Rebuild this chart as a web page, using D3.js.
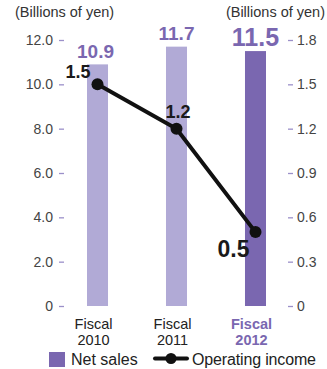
<!DOCTYPE html>
<html>
<head>
<meta charset="utf-8">
<script src="https://cdn.jsdelivr.net/npm/d3@7"></script>
<style>
  body { margin: 0; background: #fff; }
  text { font-family: "Liberation Sans", Arial, sans-serif; }
</style>
</head>
<body>
<script>
//
// DATA
//
var years = ["2010", "2011", "2012"];
var net_sales = [10.9, 11.7, 11.5];
var op_income = [1.5, 1.2, 0.5];
var left_ticks = [0, 2, 4, 6, 8, 10, 12];
var right_ticks = [0, 0.3, 0.6, 0.9, 1.2, 1.5, 1.8];

//
// SETUP
//
var W = 327, H = 369;
var light = "#b1aad6", dark = "#7a67b0", tickc = "#9b90c9";

var svg = d3.select("body").append("svg")
    .attr("width", W).attr("height", H);

var x = d3.scaleBand().domain(years).range([87, 266]).paddingInner(0.734).paddingOuter(0);
var yl = d3.scaleLinear().domain([0, 12]).range([306, 40]);
var yr = d3.scaleLinear().domain([0, 1.8]).range([306, 40]);
var cx = function(d){ return x(d) + x.bandwidth() / 2; };

// axis titles
svg.append("text").attr("x", 15).attr("y", 17).attr("font-size", 14.5)
   .attr("fill", "#333").text("(Billions of yen)");
svg.append("text").attr("x", 325).attr("y", 17).attr("font-size", 14.5)
   .attr("text-anchor", "end").attr("fill", "#333").text("(Billions of yen)");

// left axis
var la = svg.append("g").attr("transform", "translate(64,0)")
    .call(d3.axisLeft(yl).tickValues(left_ticks).tickSize(5).tickPadding(6)
        .tickFormat(function(d){ return d === 0 ? "0" : d3.format(".1f")(d); }));
// right axis
var ra = svg.append("g").attr("transform", "translate(288,0)")
    .call(d3.axisRight(yr).tickValues(right_ticks).tickSize(5).tickPadding(4)
        .tickFormat(function(d){ return d === 0 ? "0" : d3.format(".1f")(d); }));
[la, ra].forEach(function(a){
    a.select(".domain").remove();
    a.selectAll(".tick line").attr("stroke", tickc).attr("stroke-width", 1.3);
    a.selectAll(".tick text").attr("fill", "#444").attr("font-size", 14)
        .attr("font-family", "Liberation Sans, Arial, sans-serif");
});

// bars
svg.selectAll("rect.bar").data(years).enter().append("rect")
    .attr("class", "bar")
    .attr("x", function(d){ return x(d); })
    .attr("width", x.bandwidth())
    .attr("y", function(d, i){ return yl(net_sales[i]); })
    .attr("height", function(d, i){ return yl(0) - yl(net_sales[i]); })
    .attr("fill", function(d, i){ return i === 2 ? dark : light; });

// bar labels
var bl_dy = [-6, -7, -5], bl_size = [19, 19, 25];
svg.selectAll("text.bl").data(years).enter().append("text")
    .attr("x", function(d, i){ return cx(d) + (i === 0 ? -2 : 0); })
    .attr("y", function(d, i){ return yl(net_sales[i]) + bl_dy[i]; })
    .attr("text-anchor", "middle").attr("font-weight", "bold")
    .attr("font-size", function(d, i){ return bl_size[i]; })
    .attr("fill", dark)
    .text(function(d, i){ return net_sales[i].toFixed(1); });

// line
var line = d3.line()
    .x(function(d, i){ return cx(years[i]); })
    .y(function(d){ return yr(d); });
svg.append("path").datum(op_income)
    .attr("d", line).attr("fill", "none")
    .attr("stroke", "#111").attr("stroke-width", 4);
svg.selectAll("circle.pt").data(op_income).enter().append("circle")
    .attr("cx", function(d, i){ return cx(years[i]); })
    .attr("cy", function(d){ return yr(d); })
    .attr("r", 6).attr("fill", "#111");

// line labels
var ll_dx = [-32, -11, -38], ll_dy = [-6, -11, 25], ll_size = [18, 18, 23];
svg.selectAll("text.ll").data(op_income).enter().append("text")
    .attr("x", function(d, i){ return cx(years[i]) + ll_dx[i]; })
    .attr("y", function(d){ return yr(d); })
    .attr("dy", function(d, i){ return ll_dy[i]; })
    .attr("font-size", function(d, i){ return ll_size[i]; })
    .attr("font-weight", "bold")
    .attr("fill", "#1a1a1a")
    .text(function(d){ return d.toFixed(1); });

// x labels
var xl = svg.selectAll("g.xl").data(years).enter().append("g")
    .attr("transform", function(d, i){ return "translate(" + (cx(d) - 4) + ",0)"; })
    .attr("text-anchor", "middle")
    .attr("font-size", 14.5)
    .attr("fill", function(d, i){ return i === 2 ? dark : "#222"; })
    .attr("font-weight", function(d, i){ return i === 2 ? "bold" : "normal"; });
xl.append("text").attr("y", 329).text("Fiscal");
xl.append("text").attr("y", 345).text(function(d){ return d; });

// legend
svg.append("rect").attr("x", 49).attr("y", 352).attr("width", 16).attr("height", 15).attr("fill", dark);
svg.append("text").attr("x", 71).attr("y", 365).attr("font-size", 16).attr("fill", "#222").text("Net sales");
svg.append("line").attr("x1", 155).attr("x2", 187).attr("y1", 358.5).attr("y2", 358.5)
    .attr("stroke", "#111").attr("stroke-width", 4).attr("stroke-linecap", "round");
svg.append("circle").attr("cx", 171).attr("cy", 358.5).attr("r", 5.5).attr("fill", "#111");
svg.append("text").attr("x", 192).attr("y", 365).attr("font-size", 16).attr("fill", "#222")
    .attr("textLength", 124).text("Operating income");
</script>
</body>
</html>
